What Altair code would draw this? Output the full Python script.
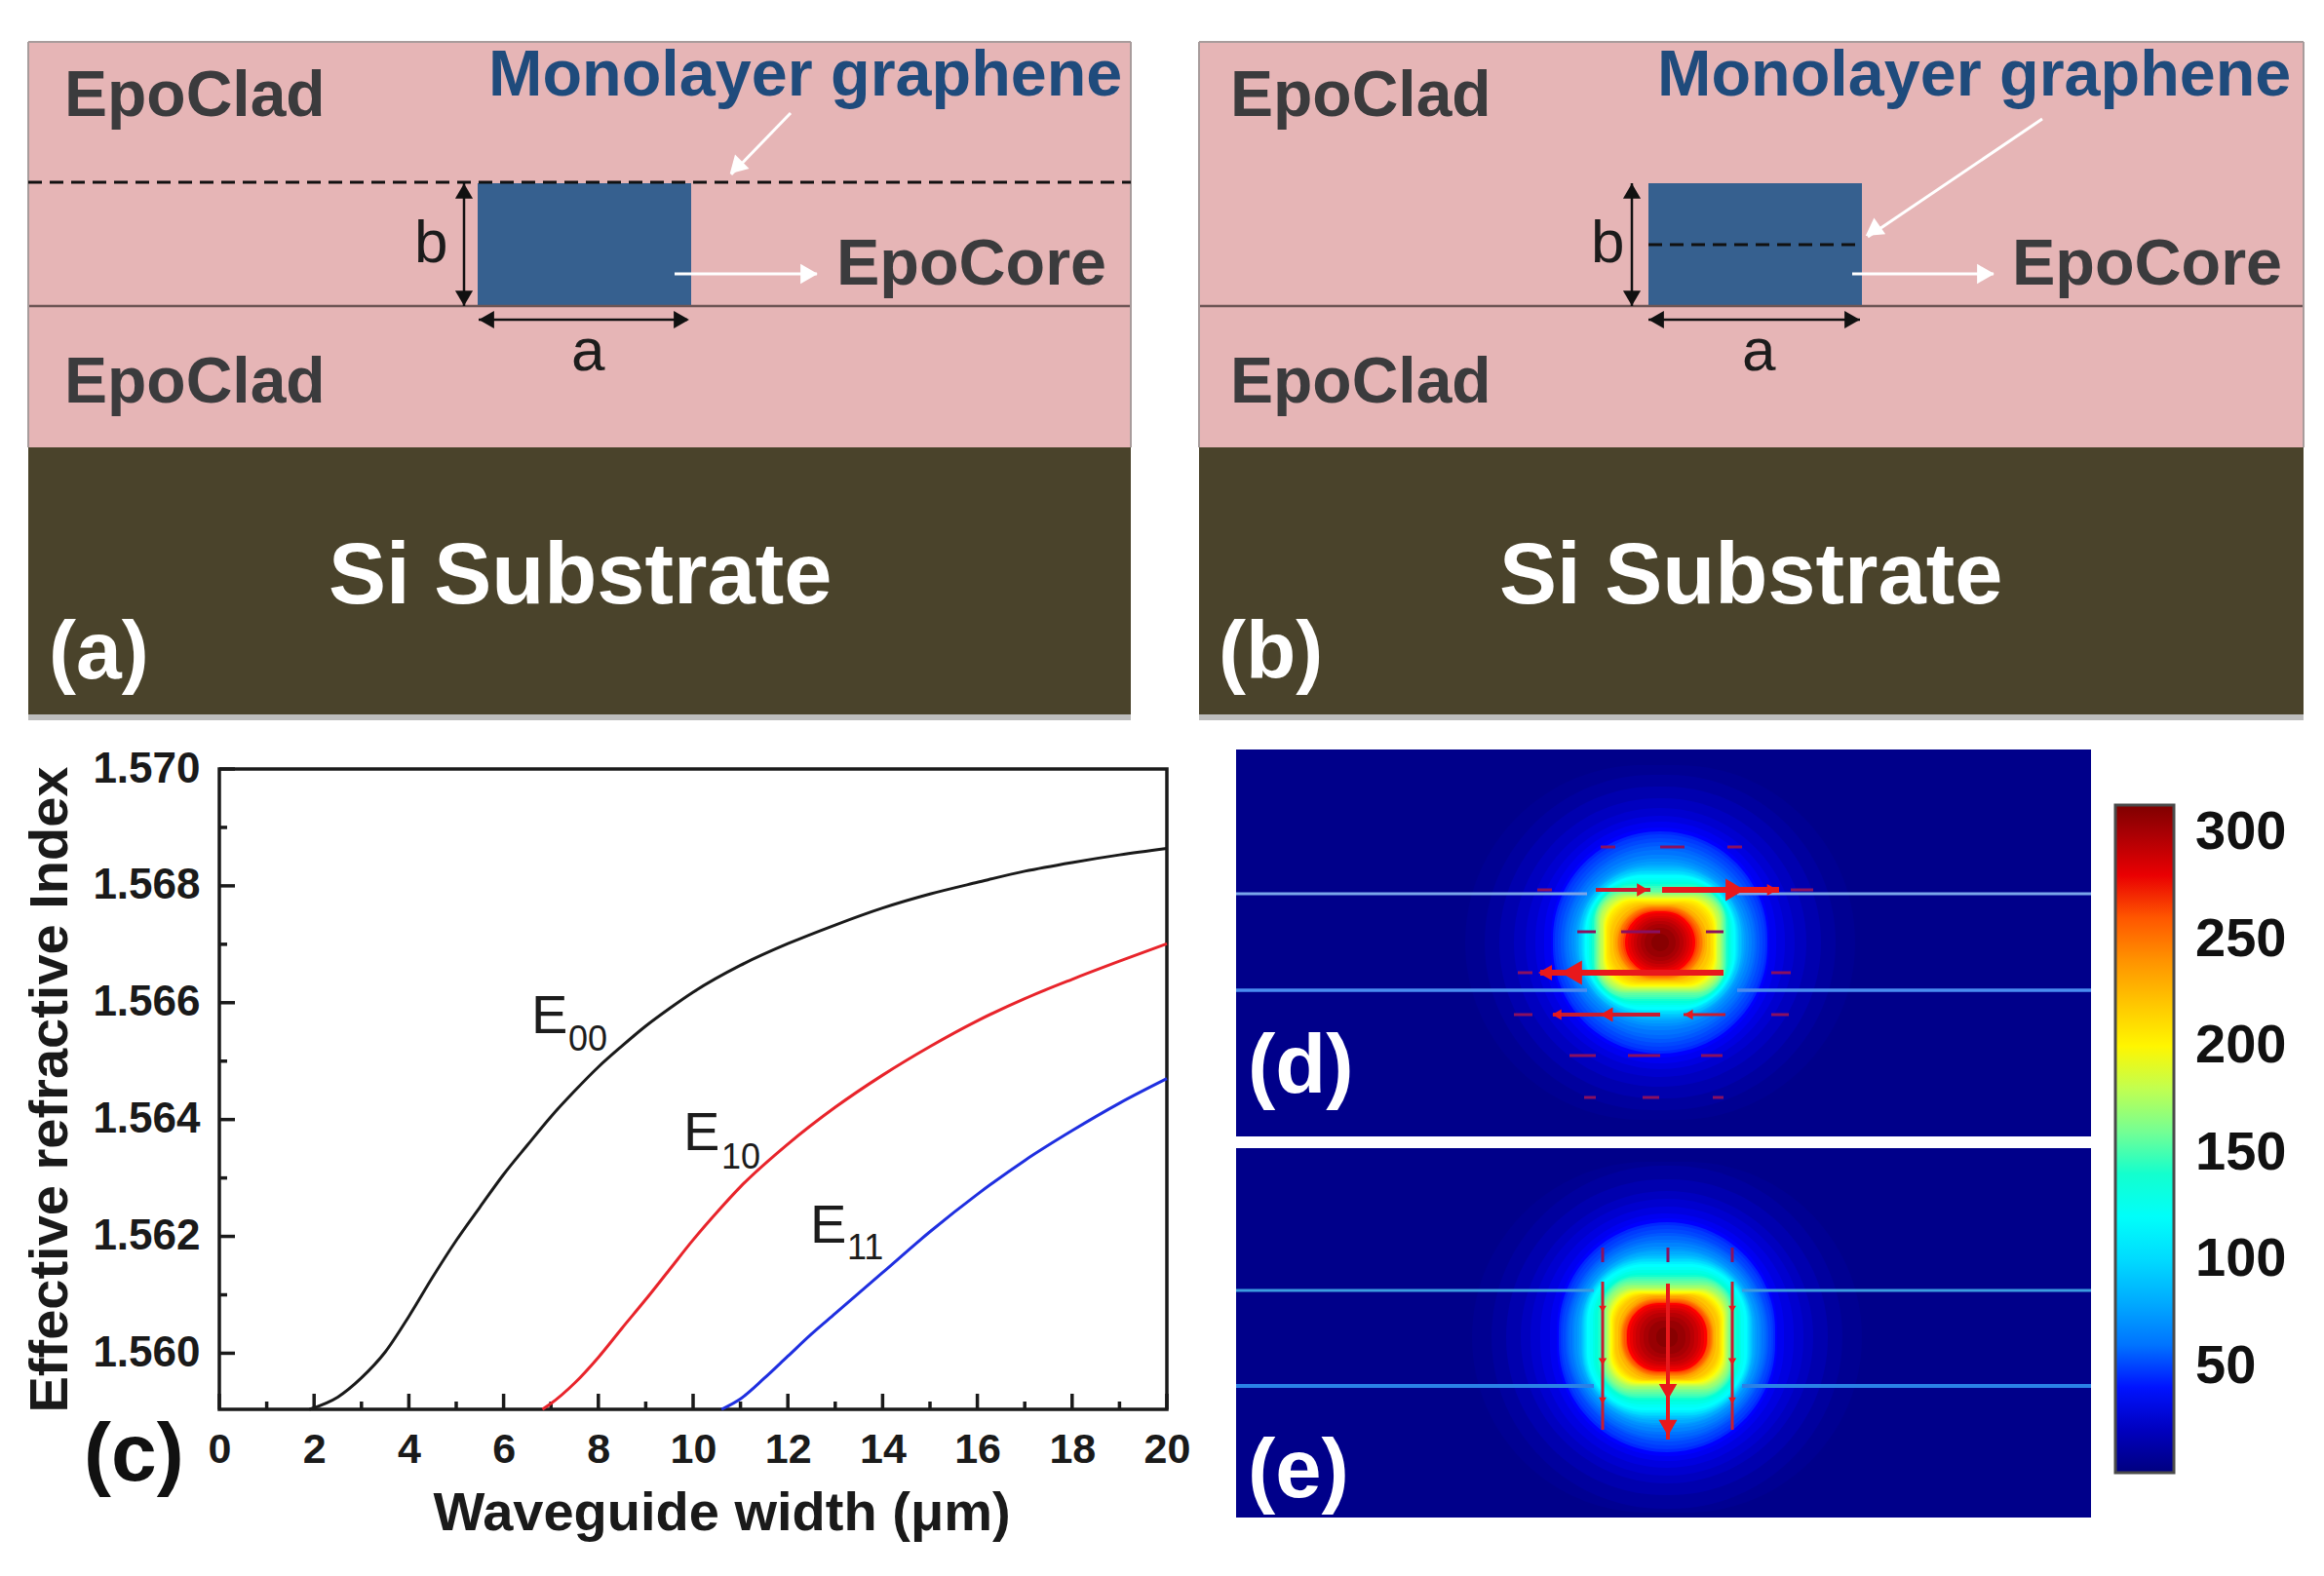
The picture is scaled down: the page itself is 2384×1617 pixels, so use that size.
import altair as alt
import pandas as pd

FONT = "Liberation Sans"
PINK, EARTH, CORE, NAVY, DARK = "#e6b5b6", "#4a432b", "#36608f", "#1f4b7c", "#3b3b3d"
WHITE, RED, FAINT = "#ffffff", "#e8181c", "#8a1060"

# ---- panel (c): curves ------------------------------------------------------
e00_x = [1.9, 2.5, 3, 3.5, 4, 4.5, 5, 5.5, 6, 6.5, 7, 7.5, 8, 8.5, 9, 9.5, 10, 11, 12, 13, 14, 15, 16, 17, 18, 19, 20]
e00_y = [1.55904, 1.55925, 1.55958, 1.56002, 1.56063, 1.56130, 1.56193, 1.56250, 1.56306, 1.56356, 1.56405, 1.56449,
         1.56490, 1.56526, 1.56560, 1.56590, 1.56618, 1.56664, 1.56701, 1.56733, 1.56762, 1.56786, 1.56806, 1.56825,
         1.56840, 1.56853, 1.56864]
e10_x = [6.82, 7, 7.5, 8, 8.5, 9, 9.5, 10, 10.5, 11, 12, 13, 14, 15, 16, 17, 18, 19, 20]
e10_y = [1.55904, 1.55914, 1.55949, 1.55993, 1.56043, 1.56092, 1.56143, 1.56194, 1.56241, 1.56285, 1.56358, 1.56421,
         1.56476, 1.56525, 1.56569, 1.56607, 1.56640, 1.56671, 1.56701]
e11_x = [10.6, 11, 11.5, 12, 12.5, 13, 14, 15, 16, 17, 18, 19, 20]
e11_y = [1.55904, 1.55922, 1.55957, 1.55995, 1.56033, 1.56068, 1.56138, 1.56208, 1.56272, 1.56330, 1.56381, 1.56428, 1.56470]
curve_colors = ["#1a1a1a", "#e8242b", "#1f2fe0"]
x_major = [0, 2, 4, 6, 8, 10, 12, 14, 16, 18, 20]
x_minor = [1, 3, 5, 7, 9, 11, 13, 15, 17, 19]
y_major = [1.560, 1.562, 1.564, 1.566, 1.568, 1.570]
y_minor = [1.561, 1.563, 1.565, 1.567, 1.569]

# ---- panels (d), (e): contour levels of the field ---------------------------
levels = [6, 10, 15, 20, 25, 30, 35, 39,
          42, 45, 48, 52, 56, 60, 65, 70, 75, 80,
          85, 90, 95, 100, 105, 110, 117, 123, 130, 135,
          140, 145, 150, 155, 160, 165, 170, 175, 180, 185,
          190, 195, 200, 205, 210, 215, 220, 228, 235, 243,
          250, 255, 260, 267, 274, 280, 285, 290, 295, 300,
          305, 310]
half_w_d = [200, 180, 165, 150, 138, 128, 119, 112,
            110, 108, 105, 102, 99, 97, 94, 91, 88, 86,
            84, 83, 81, 80, 79, 78, 77, 75, 73, 71,
            70, 68, 67, 66, 65, 64, 63, 62, 61, 59,
            58, 57, 56, 55, 54, 52, 51, 48, 46, 44,
            43, 41, 40, 38, 36, 33, 30, 27, 24, 20,
            16, 9]
half_h_d = [182, 172, 160, 148, 138, 130, 124, 118,
            114, 111, 107, 103, 99, 95, 90, 86, 83, 80,
            78, 76, 74, 73, 71, 70, 69, 66, 64, 62,
            60, 58, 56, 54, 52, 51, 50, 49, 48, 47,
            46, 45, 44, 43, 42, 41, 40, 39, 38, 37,
            36, 35, 34, 33, 32, 30, 27, 25, 22, 19,
            15, 9]
half_w_e = [200, 180, 165, 150, 140, 130, 120, 113,
            111, 109, 107, 104, 102, 100, 97, 95, 92, 90,
            88, 87, 86, 85, 84, 83, 82, 79, 76, 74,
            71, 69, 67, 66, 65, 64, 63, 62, 61, 60,
            59, 58, 57, 56, 55, 54, 53, 50, 48, 47,
            46, 45, 44, 42, 41, 38, 35, 32, 28, 24,
            19, 11]
half_h_e = [180, 176, 162, 150, 142, 134, 127, 122,
            118, 115, 111, 107, 104, 100, 97, 93, 90, 88,
            85, 83, 81, 80, 78, 77, 75, 72, 69, 66,
            64, 62, 60, 58, 56, 54, 53, 51, 50, 49,
            48, 47, 46, 45, 45, 44, 44, 43, 42, 40,
            39, 38, 37, 36, 35, 33, 30, 28, 25, 21,
            17, 10]
corner = [200, 180, 165, 150, 140, 130, 125, 118,
          114, 111, 107, 103, 99, 95, 90, 86, 82, 78,
          74, 70, 68, 66, 64, 62, 60, 55, 50, 46,
          42, 38, 34, 32, 30, 28, 28, 28, 28, 28,
          28, 30, 30, 30, 32, 32, 34, 36, 38, 37,
          36, 35, 34, 33, 32, 30, 27, 25, 22, 19,
          15, 9]
d_center = (1703, 967)
e_center = (1710, 1372)
field_stops = [0, 39, 117, 196, 274, 313]
field_colors = ["#00007f", "#0000ff", "#00ffff", "#ffff00", "#ff0000", "#7f0000"]
bar_ticks = [50, 100, 150, 200, 250, 300]

# ---- schematic geometry (reference pixels) ---------------------------------
rect_x1 = [29, 29, 490, 1230, 1230, 1691, 1268, 1268]
rect_x2 = [1160, 1160, 709, 2363, 2363, 1910, 2145, 2145]
rect_y1 = [43, 459, 188, 43, 459, 188, 769, 1178]
rect_y2 = [459, 734, 314, 459, 734, 314, 1166, 1557]
rect_fill = [PINK, EARTH, CORE, PINK, EARTH, CORE, "#00008a", "#00008a"]

line_x1 = [29, 1230, 1268, 1782, 1268, 1782, 1268, 1787, 1268, 1787, 29, 1230, 29, 1230, 29, 1160, 1230, 2363]
line_x2 = [1160, 2363, 1628, 2145, 1628, 2145, 1635, 2145, 1635, 2145, 1160, 2363, 1160, 2363, 29, 1160, 1230, 2363]
line_y1 = [314, 314, 917, 917, 1016, 1016, 1324, 1324, 1422, 1422, 736, 736, 43, 43, 43, 43, 43, 43]
line_y2 = [314, 314, 917, 917, 1016, 1016, 1324, 1324, 1422, 1422, 736, 736, 43, 43, 459, 459, 459, 459]
line_col = ["#6d5555", "#6d5555", "#7aa6ea", "#7aa6ea", "#4a8cf0", "#4a8cf0",
            "#3c9ce0", "#3c9ce0", "#2a82e6", "#2a82e6", "#bdbdbd", "#bdbdbd",
            "#a89c9c", "#a89c9c", "#a89c9c", "#a89c9c", "#a89c9c", "#a89c9c"]
line_w = [2.5, 2.5, 3, 3, 3.5, 3.5, 3, 3, 4, 4, 6, 6, 2, 2, 2, 2, 2, 2]

dash_x1, dash_x2, dash_y = [29, 1691], [1160, 1910], [187, 251]

arrow_x1 = [476, 491, 1674, 1691, 692, 811, 1900, 2095,
            1637, 1705, 1580, 1593, 1727,
            1610, 1670, 1745, 1642, 1703, 1772, 1618, 1750, 1663, 1625, 1685, 1757, 1577, 1837, 1557, 1817, 1553, 1817,
            1644, 1711, 1777, 1644, 1711, 1777]
arrow_x2 = [476, 705, 1674, 1908, 838, 750, 2045, 1916,
            1693, 1825, 1768, 1703, 1770,
            1637, 1703, 1767, 1657, 1728, 1787, 1637, 1768, 1703, 1637, 1702, 1768, 1592, 1860, 1572, 1837, 1572, 1835,
            1644, 1711, 1777, 1644, 1711, 1777]
arrow_y1 = [188, 328, 188, 328, 281, 116, 281, 122,
            913, 913, 998, 1041, 1041,
            1083, 1083, 1083, 869, 869, 869, 956, 956, 956, 1126, 1126, 1126, 913, 913, 998, 998, 1041, 1041,
            1315, 1317, 1315, 1280, 1280, 1280]
arrow_y2 = [314, 328, 314, 328, 281, 179, 281, 243,
            913, 913, 998, 1041, 1041,
            1083, 1083, 1083, 869, 869, 869, 956, 956, 956, 1126, 1126, 1126, 913, 913, 998, 998, 1041, 1041,
            1467, 1477, 1467, 1295, 1295, 1295]
arrow_col = ["#111111"] * 4 + [WHITE] * 4 + ["#c81c30", RED, RED, "#c81c30", "#c81c30"] + [FAINT] * 18 + ["#c81c30", RED, "#c81c30"] + [FAINT] * 3
arrow_w = [2.5] * 4 + [3] * 4 + [4, 6, 6, 4, 3] + [3] * 18 + [3, 4, 3] + [3] * 3

head_x = [476, 476, 499, 699, 1674, 1674, 1699, 1900, 830, 755, 2037, 1921,
          1685, 1780, 1818, 1612, 1585, 1648, 1597, 1732,
          1644, 1644, 1644, 1777, 1777, 1777, 1711, 1711]
head_y = [196, 306, 328, 328, 196, 306, 328, 328, 281, 172, 281, 237,
          913, 913, 913, 998, 998, 1041, 1041, 1041,
          1343, 1397, 1437, 1343, 1397, 1437, 1428, 1465]
head_a = [0, 180, 270, 90, 0, 180, 270, 90, 90, 225, 90, 235,
          90, 90, 90, 270, 270, 270, 270, 270,
          180, 180, 180, 180, 180, 180, 180, 180]
head_s = [330, 330, 330, 330, 330, 330, 330, 330, 420, 420, 420, 420,
          180, 520, 150, 620, 260, 220, 120, 110,
          60, 70, 60, 60, 70, 60, 340, 360]
head_c = ["#111111"] * 8 + [WHITE] * 4 + [RED] * 16

# ---- text ------------------------------------------------------------------
bold_text = ["EpoClad", "EpoClad", "Monolayer graphene", "EpoCore", "Si Substrate", "(a)",
             "EpoClad", "EpoClad", "Monolayer graphene", "EpoCore", "Si Substrate", "(b)",
             "(c)", "(d)", "(e)"]
bold_x = [66, 66, 501, 858, 337, 50, 1262, 1262, 1700, 2064, 1538, 1250, 86, 1280, 1280]
bold_y = [99, 393, 78, 272, 592, 671, 99, 393, 78, 272, 592, 671, 1494, 1095, 1510]
bold_s = [66, 66, 66.5, 66.5, 88.5, 84, 66, 66, 66.5, 66.5, 88.5, 84, 84, 85, 85]
bold_c = [DARK, DARK, NAVY, DARK, WHITE, WHITE, DARK, DARK, NAVY, DARK, WHITE, WHITE, "#111111", WHITE, WHITE]

plain_text = ["b", "a", "b", "a", "E", "E", "E"]
plain_x = [425, 586, 1632, 1787, 545, 701, 831]
plain_y = [250, 361, 250, 361, 1043, 1163, 1258]
plain_s = [62, 62, 62, 62, 56, 56, 56]
sub_text = ["00", "10", "11"]
sub_x = [583, 740, 869]
sub_y = [1067, 1188, 1281]

CANVAS_W, CANVAS_H = 2368, 1601
X = alt.Scale(domain=[8, 8 + CANVAS_W], range=[0, CANVAS_W], nice=False, zero=False)
Y = alt.Scale(domain=[8, 8 + CANVAS_H], range=[0, CANVAS_H], nice=False, zero=False)


def px(name):
    return alt.X(f"{name}:Q", scale=X, axis=None, title=None)


def py(name):
    return alt.Y(f"{name}:Q", scale=Y, axis=None, title=None)


def contours(center, half_w, half_h):
    cx, cy = center
    return pd.DataFrame({
        "level": levels,
        "x1": [cx - w for w in half_w], "x2": [cx + w for w in half_w],
        "y1": [cy - h for h in half_h], "y2": [cy + h for h in half_h],
        "r": corner,
        "ord": list(range(len(levels))),
    })


rects = alt.Chart(pd.DataFrame({"x1": rect_x1, "x2": rect_x2, "y1": rect_y1, "y2": rect_y2, "f": rect_fill})).mark_rect().encode(
    x=px("x1"), x2="x2:Q", y=py("y1"), y2="y2:Q", fill=alt.Fill("f:N", scale=None))

color = alt.Color("level:Q",
                  scale=alt.Scale(domain=field_stops, range=field_colors),
                  legend=alt.Legend(orient="none", legendX=2162, legendY=818, direction="vertical", title=None,
                                    values=bar_ticks, gradientLength=685, gradientThickness=60,
                                    gradientStrokeColor="#4a4a4a", gradientStrokeWidth=3,
                                    labelFont=FONT, labelFontSize=56, labelFontWeight="bold",
                                    labelColor="#111111", labelOverlap=False, labelOffset=22))


def field(center, half_w, half_h):
    return alt.Chart(contours(center, half_w, half_h)).mark_rect(cornerRadius=alt.expr("datum.r")).encode(
        x=px("x1"), x2="x2:Q", y=py("y1"), y2="y2:Q", color=color, order="ord:Q")


lines = alt.Chart(pd.DataFrame({"x1": line_x1, "x2": line_x2, "y1": line_y1, "y2": line_y2, "c": line_col, "w": line_w})).mark_rule().encode(
    x=px("x1"), x2="x2:Q", y=py("y1"), y2="y2:Q",
    stroke=alt.Stroke("c:N", scale=None), strokeWidth=alt.StrokeWidth("w:Q", scale=None))

dashes = alt.Chart(pd.DataFrame({"x1": dash_x1, "x2": dash_x2, "y": dash_y})).mark_rule(
    strokeDash=[14, 8], strokeWidth=3, color="#111111").encode(x=px("x1"), x2="x2:Q", y=py("y"))

arrows = alt.Chart(pd.DataFrame({"x1": arrow_x1, "x2": arrow_x2, "y1": arrow_y1, "y2": arrow_y2, "c": arrow_col, "w": arrow_w})).mark_rule().encode(
    x=px("x1"), x2="x2:Q", y=py("y1"), y2="y2:Q",
    stroke=alt.Stroke("c:N", scale=None), strokeWidth=alt.StrokeWidth("w:Q", scale=None))

heads = alt.Chart(pd.DataFrame({"x": head_x, "y": head_y, "a": head_a, "s": head_s, "c": head_c})).mark_point(
    shape="triangle-up", filled=True, opacity=1, strokeWidth=0).encode(
    x=px("x"), y=py("y"), angle=alt.Angle("a:Q", scale=None),
    size=alt.Size("s:Q", scale=None), fill=alt.Fill("c:N", scale=None))

bold_labels = alt.Chart(pd.DataFrame({"t": bold_text, "x": bold_x, "y": bold_y, "s": bold_s, "c": bold_c})).mark_text(
    font=FONT, fontWeight="bold", align="left", baseline="middle").encode(
    x=px("x"), y=py("y"), text="t:N", size=alt.Size("s:Q", scale=None), fill=alt.Fill("c:N", scale=None))

plain_labels = alt.Chart(pd.DataFrame({"t": plain_text, "x": plain_x, "y": plain_y, "s": plain_s})).mark_text(
    font=FONT, align="left", baseline="middle", color="#1c1c1c").encode(
    x=px("x"), y=py("y"), text="t:N", size=alt.Size("s:Q", scale=None))

sub_labels = alt.Chart(pd.DataFrame({"t": sub_text, "x": sub_x, "y": sub_y})).mark_text(
    font=FONT, fontSize=36, align="left", baseline="middle", color="#1c1c1c").encode(
    x=px("x"), y=py("y"), text="t:N")

canvas = alt.layer(rects, field(d_center, half_w_d, half_h_d), field(e_center, half_w_e, half_h_e), lines, dashes, arrows, heads,
                   bold_labels, plain_labels, sub_labels)

# ---- panel (c) with its own scales and axes --------------------------------
PX0, PX1, PY0, PY1 = 225 - 8, 1197 - 8, 1446 - 8, 789 - 8
XC = alt.Scale(domain=[0, 20], range=[PX0, PX1], nice=False, zero=False)
YC = alt.Scale(domain=[1.55904, 1.570], range=[PY0, PY1], nice=False, zero=False)

x_axis = alt.Axis(values=x_major, format="d", title="Waveguide width (\u03bcm)", offset=-(CANVAS_H - PY0),
                  domain=False, ticks=False, grid=False, labelFont=FONT, labelFontSize=43, labelFontWeight="bold",
                  labelColor="#1a1a1a", labelPadding=20, labelAngle=0, labelFlush=False, titleFont=FONT, titleFontSize=56,
                  titleFontWeight="bold", titleColor="#1a1a1a", titlePadding=16, titleX=732)
y_axis = alt.Axis(values=y_major, format=".3f", title="Effective refractive Index", offset=-PX0,
                  domain=False, ticks=False, grid=False, labelFont=FONT, labelFontSize=44, labelFontWeight="bold",
                  labelColor="#1a1a1a", labelPadding=20, labelFlush=False, titleFont=FONT, titleFontSize=56,
                  titleFontWeight="bold", titleColor="#1a1a1a", titlePadding=14)


def curve(xs, ys, col):
    return alt.Chart(pd.DataFrame({"x": xs, "y": ys})).mark_line(color=col, strokeWidth=3, interpolate="monotone").encode(
        x=alt.X("x:Q", scale=XC, axis=x_axis), y=alt.Y("y:Q", scale=YC, axis=y_axis))


def x_ticks(vals, length):
    return alt.Chart(pd.DataFrame({"x": vals})).mark_rule(color="#1a1a1a", strokeWidth=3.5).encode(
        x=alt.X("x:Q", scale=XC), y=alt.value(PY0), y2=alt.value(PY0 - length))


def y_ticks(vals, length):
    return alt.Chart(pd.DataFrame({"y": vals})).mark_rule(color="#1a1a1a", strokeWidth=3.5).encode(
        y=alt.Y("y:Q", scale=YC), x=alt.value(PX0), x2=alt.value(PX0 + length))


frame = alt.Chart(pd.DataFrame({"x": [0], "x2": [20], "y": [1.55904], "y2": [1.570]})).mark_rect(
    fillOpacity=0, stroke="#1a1a1a", strokeWidth=3.5).encode(
    x=alt.X("x:Q", scale=XC), x2="x2:Q", y=alt.Y("y:Q", scale=YC), y2="y2:Q")

plot_c = alt.layer(frame,
                   x_ticks(x_major, 16), x_ticks(x_minor, 8), y_ticks(y_major, 16), y_ticks(y_minor, 8),
                   curve(e00_x, e00_y, curve_colors[0]), curve(e10_x, e10_y, curve_colors[1]),
                   curve(e11_x, e11_y, curve_colors[2]))

# ---- colour bar tick marks --------------------------------------------------
YB = alt.Scale(domain=[0, 313], range=[1511 - 8, 826 - 8], nice=False, zero=False)
bar_marks = alt.layer(*[
    alt.Chart(pd.DataFrame({"v": bar_ticks, "x1": [a] * 6, "x2": [b] * 6})).mark_rule(color="#222222", strokeWidth=3).encode(
        x=px("x1"), x2="x2:Q", y=alt.Y("v:Q", scale=YB, axis=None))
    for a, b in [(2170, 2179), (2221, 2230)]
])

chart = alt.layer(canvas, plot_c, bar_marks).resolve_scale(x="independent", y="independent").properties(
    width=CANVAS_W, height=CANVAS_H, padding=0, autosize=alt.AutoSizeParams(type="none"), background="white"
).configure_view(stroke=None)

chart.save("out.html", embed_options={"renderer": "svg", "actions": False})
